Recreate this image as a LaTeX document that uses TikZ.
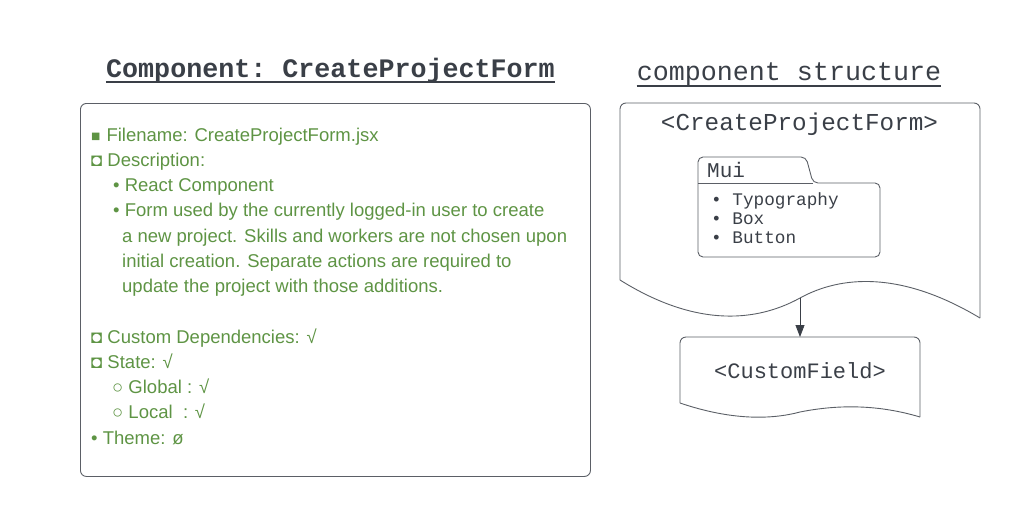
\documentclass[tikz,border=0pt]{standalone}
\usepackage{fontspec}
\setmainfont{Liberation Sans}
\setmonofont{Liberation Mono}
\usetikzlibrary{arrows.meta, positioning}

\definecolor{ink}{HTML}{3A3F47}
\definecolor{edge}{HTML}{5B5F66}
\definecolor{note}{HTML}{5E9444}

\begin{document}
\begin{tikzpicture}[
        x=1pt, y=-1pt,
        heading/.style={font=\fontsize{26.7}{30}\selectfont\ttfamily, text=ink, inner sep=0pt},
        card/.style={draw=edge, line width=0.9pt, rounded corners=6pt},
        shapeline/.style={draw=edge, line width=0.9pt},
        code/.style={text=ink, inner sep=0pt},
        notes/.style={text=note, inner sep=0pt, align=left, font=\fontsize{18.5}{25.25}\selectfont},
        arrow/.style={-{Triangle[length=12pt,width=9pt]}, draw=ink, line width=0.8pt}
    ]
    \useasboundingbox (0,0) rectangle (1020,517);

    % Headings
    \node[heading, font=\fontsize{26.7}{30}\selectfont\ttfamily\bfseries, anchor=base] (title) at (330.5,77) {Component: CreateProjectForm};
    \draw[ink, line width=1.3pt] ([yshift=-5pt]title.base west) -- ([yshift=-5pt]title.base east);
    \node[heading, anchor=base] (struct) at (789,80) {component structure};
    \draw[ink, line width=1.1pt] ([yshift=-6pt]struct.base west) -- ([yshift=-6pt]struct.base east);

    % Left card
    \node[card, minimum width=510pt, minimum height=373pt, anchor=north west] (card) at (80,103) {};
    \node[notes, anchor=north west] (info) at (91,127.5) {%
        {\fontsize{15.5}{15.5}\selectfont ■}\hspace{6pt}Filename: CreateProjectForm.jsx\\
        ◘ Description:\\
        \hspace*{22pt}• React Component\\
        \hspace*{22pt}• Form used by the currently logged-in user to create\\
        \hspace*{31pt}a new project. Skills and workers are not chosen upon\\
        \hspace*{31pt}initial creation. Separate actions are required to\\
        \hspace*{31pt}update the project with those additions.\\
        \mbox{}\\
        ◘ Custom Dependencies: √\\
        ◘ State: √\\
        \hspace*{21pt}○ Global : √\\
        \hspace*{21pt}○ Local~ : √\\
        • Theme: ø};

    % Right side: component structure
    \draw[shapeline, rounded corners=6pt] (620,280) -- (620,103) -- (980,103) -- (980,318);
    \draw[shapeline] (980,318) .. controls (900,270) and (840,276) .. (800,298)
        .. controls (760,320) and (700,330) .. (620,280);
    \coordinate (wave) at (800,298);
    \node[code, font=\fontsize{24.3}{28}\selectfont\ttfamily, anchor=base] (form) at (799.5,130) {<CreateProjectForm>};

    % Mui folder
    \draw[shapeline, rounded corners=5pt] (698,183) -- (698,157) -- (806,157) -- (813,183) -- (880,183) -- (880,257) -- (698,257) -- cycle;
    \draw[shapeline] (698,183) -- (813,183);
    \node[code, font=\fontsize{21}{24}\selectfont\ttfamily, anchor=base west] (mui) at (707,177) {Mui};
    \node[code, font=\fontsize{17.7}{19}\selectfont\ttfamily, anchor=north west, align=left] (muilist) at (711,192) {• Typography\\• Box\\• Button};

    % CustomField
    \draw[shapeline, rounded corners=6pt] (680,403) -- (680,337) -- (920,337) -- (920,417);
    \draw[shapeline] (920,417) .. controls (880,405) and (840,404) .. (800,412)
        .. controls (770,420) and (730,420) .. (680,403);
    \coordinate (cftop) at (800,337);
    \node[code, font=\fontsize{22}{26}\selectfont\ttfamily, anchor=base] (field) at (800,378) {<CustomField>};

    % Arrows
    \draw[arrow] (wave) -- (cftop);

\end{tikzpicture}
\end{document}
